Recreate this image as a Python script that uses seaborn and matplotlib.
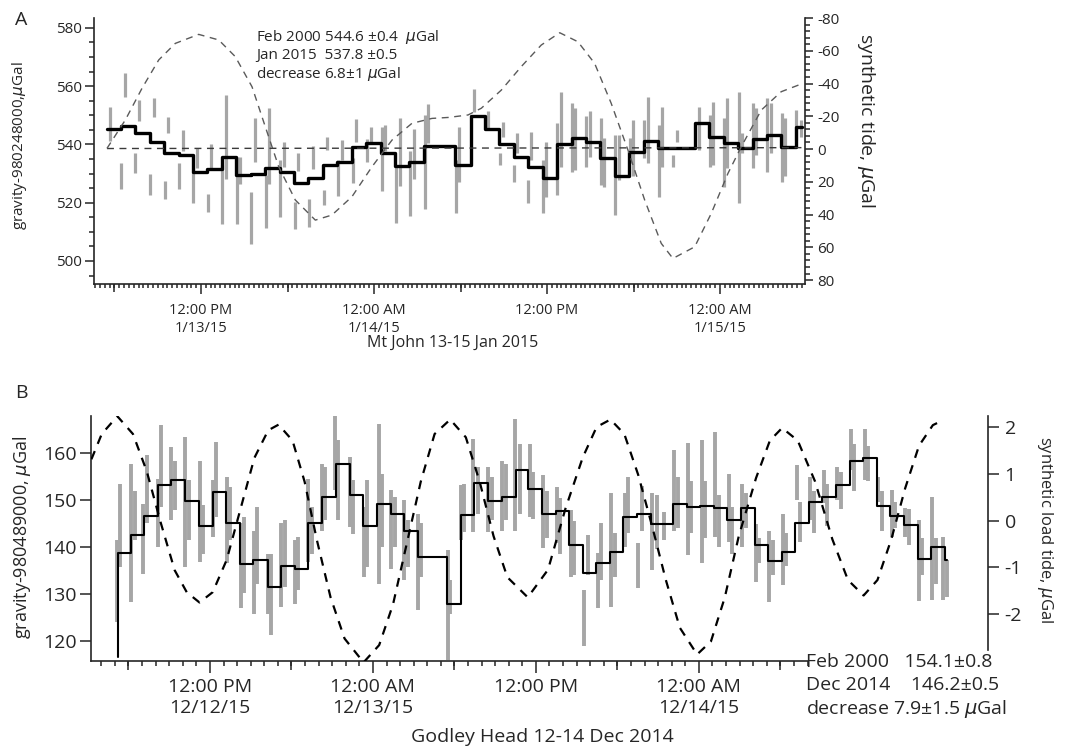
import matplotlib
matplotlib.use("Agg")
import matplotlib.pyplot as plt
from matplotlib.ticker import FixedLocator, FixedFormatter, MultipleLocator
import pandas as pd
import seaborn as sns

# ---------------------------------------------------------------
# Panel A  -  Mt John, 13-15 Jan 2015 (time: hours after 00:00 13 Jan)
# ---------------------------------------------------------------
a_step_t = [5.5, 6.45, 7.45, 8.45, 9.45, 10.45, 11.45, 12.45, 13.45, 14.45,
            15.45, 16.45, 17.45, 18.45, 19.45, 20.45, 21.45, 22.45, 23.45,
            24.45, 25.45, 26.45, 27.5, 29.65, 30.7, 31.7, 32.7, 33.7, 34.7,
            35.7, 36.7, 37.7, 38.7, 39.7, 40.7, 41.7, 42.7, 43.7, 46.25,
            47.25, 48.25, 49.25, 50.25, 51.25, 52.25, 53.25]
a_step_end = 53.7
a_step_g = [545.2, 546.4, 543.8, 541.0, 537.2, 536.4, 530.7, 531.5, 535.8, 529.5,
            529.9, 532.0, 530.7, 526.7, 528.4, 533.0, 534.1, 539.0, 540.4, 537.2,
            532.6, 534.1, 539.3, 533.0, 549.9, 545.2, 540.2, 535.6, 532.4, 528.4,
            540.1, 542.1, 540.8, 535.3, 529.2, 537.3, 541.3, 538.7, 547.3, 542.5,
            540.4, 538.9, 541.9, 543.3, 539.0, 546.1]

a_bar_t = [5.69, 6.42, 6.70, 7.42, 7.70, 8.46, 8.71, 9.48, 9.71, 10.47, 10.72,
           11.48, 11.72, 12.49, 12.72, 13.49, 13.73, 14.50, 14.73, 15.47, 15.74,
           16.51, 16.72, 17.48, 17.76, 18.52, 18.73, 19.49, 19.75, 20.53, 20.74,
           21.50, 21.75, 22.51, 22.75, 23.51, 23.76, 24.52, 24.76, 25.52, 25.77,
           26.53, 26.77, 27.53, 27.74, 29.68, 29.89, 30.93, 31.90, 32.71, 32.94,
           33.68, 33.93, 34.68, 34.91, 35.72, 35.95, 36.71, 36.94, 37.73, 37.96,
           38.72, 38.96, 39.72, 39.95, 40.73, 40.97, 41.73, 41.96, 42.72, 43.00,
           43.74, 43.97, 44.73, 44.99, 46.51, 47.28, 47.51, 48.27, 48.50, 49.29,
           49.52, 50.28, 50.51, 51.27, 51.50, 52.29, 52.52, 53.28, 53.59]
a_bar_lo = [541.1, 524.8, 556.2, 530.2, 547.9, 522.5, 549.4, 521.3, 543.8, 524.8, 537.6,
            519.9, 531.8, 516.9, 531.7, 512.8, 528.1, 512.6, 526.4, 505.9, 534.1,
            511.2, 526.4, 515.1, 532.3, 511.0, 531.0, 511.6, 531.7, 519.3, 538.2,
            522.2, 534.6, 526.9, 540.9, 534.1, 540.0, 524.0, 537.6, 513.0, 525.6,
            515.4, 528.1, 517.7, 540.6, 516.5, 527.0, 551.0, 545.0, 533.0, 542.7,
            527.2, 537.0, 519.8, 534.7, 516.4, 522.1, 522.7, 532.4, 530.7, 531.2,
            532.4, 535.8, 526.1, 525.5, 515.8, 527.8, 533.5, 529.0, 535.3, 533.5,
            522.1, 532.4, 532.4, 541.0, 538.1, 532.4, 533.0, 525.5, 531.8, 519.8,
            537.0, 531.8, 536.4, 530.7, 537.0, 527.2, 529.0, 541.5, 542.7]
a_bar_hi = [553.0, 533.5, 564.4, 537.0, 555.3, 529.9, 555.9, 527.5, 549.4, 533.5, 544.9,
            530.7, 538.7, 523.0, 540.2, 532.9, 556.8, 535.8, 535.8, 523.6, 549.2,
            529.6, 552.4, 534.6, 540.9, 520.1, 537.0, 521.3, 539.4, 524.2, 542.7,
            534.6, 541.4, 535.2, 548.8, 541.8, 545.9, 545.9, 546.8, 532.6, 549.2,
            537.6, 545.3, 550.2, 553.9, 534.7, 546.0, 559.0, 551.6, 537.0, 547.8,
            533.0, 543.8, 527.8, 544.4, 534.7, 541.0, 547.3, 558.1, 554.1, 552.4,
            549.6, 551.6, 549.0, 542.1, 543.3, 543.3, 542.1, 548.4, 548.4, 556.2,
            546.7, 553.0, 536.4, 545.0, 553.0, 550.1, 554.7, 549.0, 555.9, 558.1,
            543.8, 554.1, 552.4, 555.9, 554.1, 550.7, 549.0, 551.8, 548.4]

# reference level (left axis) and synthetic tide (right axis, µGal)
a_base_t = [5.48, 53.7]
a_base_g = [538.6, 538.9]
a_tide_t = [5.48, 6.75, 7.91, 9.07, 10.22, 11.84, 13.23, 14.38, 15.54, 16.46,
            17.39, 18.54, 19.93, 21.08, 22.47, 23.86, 25.25, 26.63, 28.02, 29.18,
            30.52, 31.44, 32.83, 34.21, 35.60, 36.88, 38.14, 39.30, 40.45, 41.61,
            42.77, 43.92, 44.73, 46.24, 47.39, 48.55, 49.47, 50.86, 52.24, 53.63]
a_tide_v = [-0.4, -17.7, -37.1, -54.4, -64.5, -70.0, -66.6, -56.4, -38.0, -13.6,
            10.8, 31.1, 43.4, 40.3, 29.1, 10.8, -5.5, -15.7, -18.7, -19.3,
            -20.8, -24.9, -36.0, -50.3, -63.5, -71.0, -65.5, -52.3, -27.9, 0.6,
            31.1, 57.6, 66.8, 59.7, 39.3, 14.8, -1.4, -23.8, -35.0, -39.7]

a_tick_labels = ["12:00 PM\n1/13/15", "12:00 AM\n1/14/15", "12:00 PM", "12:00 AM\n1/15/15"]

# ---------------------------------------------------------------
# Panel B  -  Godley Head, 12-14 Dec 2014 (time: hours after 00:00 12 Dec)
# ---------------------------------------------------------------
b_step_t = [5.2, 5.2, 6.15, 7.15, 8.15, 9.15, 10.15, 11.2, 12.2, 13.2, 14.2,
            15.2, 16.25, 17.25, 18.25, 19.25, 20.25, 21.25, 22.3, 23.3, 24.3,
            25.35, 26.3, 27.3, 29.45, 30.45, 31.45, 32.5, 33.5, 34.5, 35.45,
            36.45, 37.45, 38.45, 39.45, 40.45, 41.45, 42.45, 43.45, 44.45, 46.1,
            47.1, 48.1, 49.1, 50.1, 51.1, 52.1, 53.1, 54.1, 55.1, 56.1, 57.1,
            58.1, 59.1, 60.1, 61.1, 62.1, 63.1, 64.1, 65.1, 66.1]
b_step_end = 66.3
b_step_g = [116.5, 138.7, 142.5, 146.7, 153.1, 154.3, 149.8, 144.5, 151.7, 145.1,
            136.3, 137.2, 131.5, 136.0, 135.2, 145.1, 150.6, 157.7, 151.0, 144.4,
            149.2, 147.1, 143.5, 137.9, 127.9, 146.8, 153.6, 149.8, 150.6, 156.5,
            152.4, 147.1, 147.6, 140.4, 134.5, 136.5, 138.9, 146.4, 147.1, 144.8,
            149.2, 148.5, 148.7, 148.3, 145.7, 148.4, 140.4, 137.0, 138.9, 145.0,
            149.6, 150.6, 153.1, 158.4, 159.0, 148.7, 146.5, 144.6, 137.5, 140.0,
            137.2]

b_bar_t = [5.18, 5.36, 6.20, 6.46, 7.10, 7.40, 8.17, 8.43, 9.14, 9.45, 10.16, 10.47,
           11.23, 11.49, 12.20, 12.46, 13.23, 13.48, 14.25, 14.50, 15.22, 15.47,
           16.24, 16.50, 17.26, 17.51, 18.23, 18.48, 19.25, 19.51, 20.25, 20.50,
           21.19, 21.45, 22.29, 22.54, 23.31, 23.57, 24.41, 24.66, 25.35, 25.61,
           26.30, 26.55, 27.32, 27.57, 29.51, 29.69, 30.46, 30.71, 31.40, 31.73,
           32.50, 32.76, 33.52, 33.78, 34.47, 34.80, 35.56, 35.80, 36.55, 36.80,
           37.55, 37.80, 38.55, 38.80, 39.55, 39.80, 40.55, 40.80, 41.55, 41.80,
           42.55, 42.80, 43.55, 43.80, 44.55, 44.95, 45.40, 46.20, 46.45, 47.20,
           47.45, 48.20, 48.45, 49.20, 49.45, 50.20, 50.45, 51.20, 51.45, 52.20,
           52.45, 53.20, 53.45, 54.20, 54.45, 55.20, 55.45, 56.20, 56.45, 57.20,
           57.45, 58.20, 58.45, 59.20, 59.45, 60.20, 60.45, 61.20, 61.45, 62.20,
           62.45, 63.20, 63.45, 64.20, 64.45, 65.20, 65.45, 66.00, 66.30]
b_bar_lo = [124.0, 135.7, 128.3, 141.5, 134.3, 145.0, 140.0, 148.5, 145.7, 147.8, 135.7, 141.4,
            136.8, 138.6, 142.1, 146.4, 136.5, 141.4, 126.9, 130.1, 125.8, 132.2,
            125.8, 121.2, 127.2, 131.5, 127.9, 130.8, 136.8, 138.6, 143.5, 145.7,
            152.1, 145.7, 144.3, 142.8, 133.6, 135.7, 132.2, 140.0, 135.4, 140.0,
            132.9, 135.7, 126.5, 133.6, 115.9, 125.8, 141.4, 143.2, 143.2, 147.1,
            143.2, 145.7, 143.5, 145.7, 143.5, 147.1, 146.4, 146.0, 139.7, 142.0,
            140.8, 138.5, 133.7, 134.0, 118.8, 134.0, 127.0, 133.0, 127.3, 133.5,
            140.0, 143.0, 131.2, 143.5, 135.0, 139.5, 141.5, 143.5, 144.0, 138.3,
            143.0, 136.5, 142.0, 142.2, 140.0, 141.0, 138.5, 140.0, 144.0, 132.5,
            136.5, 128.3, 134.0, 131.8, 136.0, 150.0, 141.0, 145.7, 143.0, 149.3,
            144.5, 150.0, 148.0, 156.4, 152.0, 154.3, 154.0, 149.6, 143.5, 142.2,
            144.0, 142.2, 140.5, 128.4, 134.0, 128.7, 132.0, 128.7, 129.4]
b_bar_hi = [141.4, 153.5, 157.7, 152.0, 149.2, 159.5, 154.5, 165.9, 161.3, 158.4, 163.4, 154.2,
            158.4, 148.9, 154.2, 162.3, 154.9, 152.8, 145.0, 146.4, 143.5, 148.5,
            138.6, 138.6, 145.0, 145.7, 141.4, 142.1, 154.5, 148.5, 157.7, 157.0,
            168.0, 162.7, 159.1, 154.2, 148.5, 154.2, 166.2, 155.6, 152.1, 150.6,
            149.9, 145.7, 147.1, 145.0, 139.3, 132.9, 153.1, 153.5, 163.0, 157.0,
            157.0, 154.9, 158.4, 157.7, 167.3, 162.0, 162.0, 156.0, 155.3, 152.0,
            152.8, 150.5, 147.9, 145.5, 130.9, 142.5, 138.7, 145.0, 151.4, 143.0,
            151.4, 155.0, 140.8, 153.0, 151.5, 151.0, 147.5, 160.7, 155.0, 162.1,
            154.0, 162.8, 154.0, 164.5, 151.0, 155.5, 148.5, 153.5, 151.5, 144.8,
            142.0, 143.5, 141.5, 147.0, 143.0, 157.4, 149.5, 155.0, 152.0, 156.4,
            153.5, 157.1, 156.0, 165.2, 162.0, 165.2, 161.5, 155.0, 152.0, 152.1,
            149.5, 148.2, 148.0, 145.7, 142.0, 150.7, 142.0, 142.2, 137.2]

# synthetic load tide (right axis, µGal)
b_load_t = [3.27, 4.03, 5.18, 6.33, 7.35, 8.37, 9.40, 10.29, 11.23, 12.20,
            13.23, 14.25, 15.27, 16.29, 17.05, 18.08, 18.97, 19.86, 20.88, 21.91,
            23.31, 24.46, 25.48, 26.50, 27.52, 28.54, 29.69, 30.84, 31.86, 32.88,
            33.90, 35.40, 36.89, 38.17, 39.45, 40.47, 41.49, 42.51, 43.53, 44.55,
            45.57, 46.60, 47.87, 48.89, 49.91, 50.94, 52.21, 53.23, 54.13, 55.28,
            56.55, 57.83, 58.98, 60.13, 61.15, 62.17, 63.19, 64.21, 65.23, 65.87]
b_load_v = [1.31, 1.85, 2.23, 1.85, 1.05, -0.04, -1.06, -1.53, -1.75, -1.53,
            -0.84, 0.25, 1.34, 1.93, 2.05, 1.71, 0.83, -0.40, -1.64, -2.52,
            -3.03, -2.66, -1.79, -0.48, 0.83, 1.85, 2.16, 1.78, 0.83, -0.33,
            -1.21, -1.64, -1.05, 0.25, 1.35, 2.00, 2.16, 1.85, 0.98, -0.11,
            -1.27, -2.29, -2.86, -2.58, -1.64, -0.33, 0.91, 1.71, 1.98, 1.71,
            0.84, -0.40, -1.27, -1.60, -1.27, -0.40, 0.69, 1.60, 2.04, 2.13]

b_tick_labels = ["12:00 PM\n12/12/15", "12:00 AM\n12/13/15", "12:00 PM", "12:00 AM\n12/14/15"]

# ---------------------------------------------------------------
sns.set_style("ticks")
plt.rcParams["font.family"] = ["Open Sans", "DejaVu Sans"]
plt.rcParams["axes.unicode_minus"] = False
plt.rcParams["mathtext.fontset"] = "dejavusans"
plt.rcParams["axes.linewidth"] = 1.2

W, H = 1065, 751
fig = plt.figure(figsize=(W / 100, H / 100), dpi=100)


def fx(px):
    return px / W


def fy(py):
    return 1 - py / H


BAR = "#a6a6a6"


def time_axis(ax, majors, labels, mids, minor_loc, fs, lmin, lmid, lmaj, pad):
    ax.xaxis.set_major_locator(FixedLocator(majors))
    ax.xaxis.set_major_formatter(FixedFormatter(labels))
    ax.xaxis.set_minor_locator(minor_loc)
    ax.tick_params(axis="x", which="major", direction="out", length=lmaj, width=1.1,
                   labelsize=fs, pad=pad)
    ax.tick_params(axis="x", which="minor", direction="out", length=lmin, width=1.1)
    sec = ax.secondary_xaxis("bottom")
    sec.set_xticks(mids)
    sec.tick_params(axis="x", which="major", direction="out", length=lmid, width=1.1,
                    labelbottom=False)
    sec.tick_params(axis="x", which="minor", length=0)
    for s in sec.spines.values():
        s.set_visible(False)


# ---------------- Panel A ----------------
axA = fig.add_axes([fx(94), fy(284), fx(805) - fx(94), fy(18) - fy(284)])
axA.vlines(a_bar_t, a_bar_lo, a_bar_hi, colors=BAR, lw=2.3, zorder=2)
dfA = pd.DataFrame({"t": a_step_t + [a_step_end], "g": a_step_g + [a_step_g[-1]]})
sns.lineplot(data=dfA, x="t", y="g", ax=axA, drawstyle="steps-post", color="black",
             lw=2.4, estimator=None, sort=False, zorder=3)
sns.lineplot(x=a_base_t, y=a_base_g, ax=axA, color="#3a3a3a", lw=1.0,
             linestyle=(0, (5, 4)), estimator=None, sort=False, zorder=4)
axA.set_xlim(4.58, 53.89)
axA.set_ylim(492.1, 583.4)
axA.set_xlabel("")
axA.set_ylabel("")
axA.yaxis.set_major_locator(FixedLocator([500, 520, 540, 560, 580]))
axA.yaxis.set_minor_locator(MultipleLocator(5))
axA.tick_params(axis="y", which="major", direction="out", length=6.5, width=1.1,
                labelsize=11, pad=2)
axA.tick_params(axis="y", which="minor", direction="out", length=3.6, width=1.1)
time_axis(axA, [12, 24, 36, 48], a_tick_labels, [6, 18, 30, 42],
          MultipleLocator(1 / 3), 10.5, 3.2, 6.0, 7.0, 7)
axA.spines["top"].set_visible(False)
axA.spines["right"].set_visible(False)

axA2 = axA.twinx()
sns.lineplot(x=a_tide_t, y=a_tide_v, ax=axA2, color="#5a5a5a", lw=1.0,
             linestyle=(0, (5, 4)), estimator=None, sort=False)
axA2.set_ylim(82.4, -80)
axA2.set_ylabel("")
axA2.yaxis.set_major_locator(FixedLocator(list(range(-80, 81, 20))))
axA2.yaxis.set_minor_locator(MultipleLocator(4))
axA2.tick_params(axis="y", which="major", direction="out", length=6, width=1.1,
                 labelsize=11, pad=3)
axA2.tick_params(axis="y", which="minor", direction="out", length=3.5, width=1.1)
for side in ("top", "left", "bottom"):
    axA2.spines[side].set_visible(False)

fig.text(fx(15), fy(20), "A", fontsize=14, ha="left", va="center")
fig.text(fx(20), fy(146), r"gravity-980248000,$\mu$Gal", rotation=90,
         fontsize=11, ha="center", va="center")
fig.text(fx(866), fy(120), r"synthetic tide, $\mu$Gal", rotation=270,
         fontsize=14, ha="center", va="center")
fig.text(fx(453), fy(343), "Mt John 13-15 Jan 2015", fontsize=11.5,
         ha="center", va="center")
for i, line in enumerate([r"Feb 2000 544.6 ±0.4  $\mu$Gal",
                          "Jan 2015  537.8 ±0.5",
                          r"decrease 6.8±1 $\mu$Gal"]):
    fig.text(fx(256), fy(37 + 18.5 * i), line, fontsize=11, ha="left", va="center")

# ---------------- Panel B ----------------
axB = fig.add_axes([fx(91), fy(661), fx(988) - fx(91), fy(416) - fy(661)])
axB.vlines(b_bar_t, b_bar_lo, b_bar_hi, colors=BAR, lw=2.8, zorder=2)
dfB = pd.DataFrame({"t": b_step_t + [b_step_end], "g": b_step_g + [b_step_g[-1]]})
sns.lineplot(data=dfB, x="t", y="g", ax=axB, drawstyle="steps-post", color="black",
             lw=1.5, estimator=None, sort=False, zorder=3)
axB.set_xlim(3.24, 69.29)
axB.set_ylim(115.7, 167.9)
axB.set_xlabel("")
axB.set_ylabel("")
axB.yaxis.set_major_locator(FixedLocator([120, 130, 140, 150, 160]))
axB.tick_params(axis="y", which="major", direction="out", length=8, width=1.1,
                labelsize=14, pad=2)
time_axis(axB, [12, 24, 36, 48], b_tick_labels, [6, 18, 30, 42, 54],
          FixedLocator(list(range(4, 57))), 14, 3.6, 6.5, 8.6, 4)
axB.spines["top"].set_visible(False)
axB.spines["right"].set_visible(False)
axB.spines["bottom"].set_bounds(3.24, 56.0)

axB2 = axB.twinx()
sns.lineplot(x=b_load_t, y=b_load_v, ax=axB2, color="black", lw=1.6,
             linestyle=(0, (4, 3.5)), estimator=None, sort=False)
axB2.set_ylim(-3.0, 2.235)
axB2.set_ylabel("")
axB2.yaxis.set_major_locator(FixedLocator([-2, -1, 0, 1, 2]))
axB2.tick_params(axis="y", which="major", direction="out", length=8, width=1.1,
                 labelsize=14, pad=4)
for side in ("top", "left", "bottom"):
    axB2.spines[side].set_visible(False)
axB2.spines["right"].set_bounds(-2.77, 2.235)

fig.text(fx(15), fy(393), "B", fontsize=14, ha="left", va="center")
fig.text(fx(22), fy(537), r"gravity-980489000, $\mu$Gal", rotation=90,
         fontsize=13, ha="center", va="center")
fig.text(fx(1045), fy(530), r"synthetic load tide, $\mu$Gal", rotation=270,
         fontsize=12, ha="center", va="center")
fig.text(fx(542), fy(737), "Godley Head 12-14 Dec 2014", fontsize=14,
         ha="center", va="center")
for i, line in enumerate(["Feb 2000   154.1±0.8",
                          "Dec 2014    146.2±0.5",
                          r"decrease 7.9±1.5 $\mu$Gal"]):
    fig.text(fx(806), fy(662 + 23.5 * i), line, fontsize=14, ha="left", va="center")

fig.savefig("out.png", dpi=100)
